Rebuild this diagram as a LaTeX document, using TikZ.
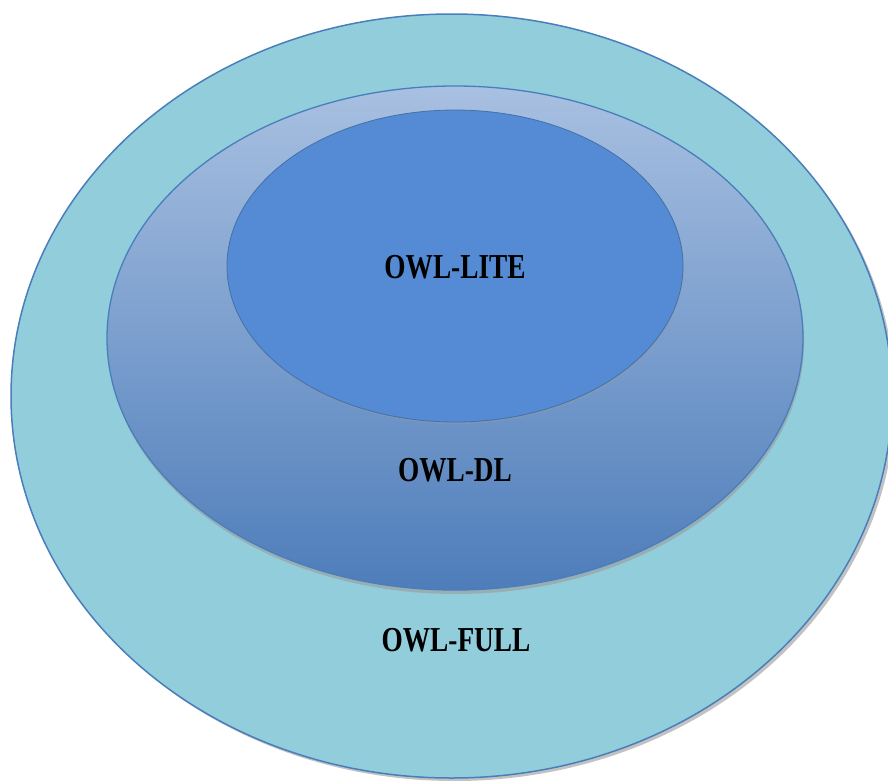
\documentclass[tikz,border=0pt]{standalone}
\usepackage{fontspec}
\usepackage{graphicx}
\setmainfont{Liberation Serif}
\usetikzlibrary{shapes.geometric,shadows}
\definecolor{fullfill}{HTML}{92CDDC}
\definecolor{ringline}{HTML}{4A7EBB}
\definecolor{dltop}{HTML}{A8C0E1}
\definecolor{dlbottom}{HTML}{4E7DBA}
\definecolor{litefill}{HTML}{548BD4}
\definecolor{shadowgrey}{HTML}{9A9A9A}
\tikzset{
  layer/.style={ellipse, inner sep=0pt, draw=ringline},
  tag/.style={font=\fontsize{35}{35}\selectfont\bfseries, text=black, inner sep=0pt},
}
\newcommand{\narrow}[1]{\scalebox{0.78}[1]{#1}}
\begin{document}
\begin{tikzpicture}[x=1pt,y=-1pt]
  \useasboundingbox (0,0) rectangle (888,780);
  \clip (0,0) rectangle (888,780);
  % outer language: OWL Full
  \fill[shadowgrey, opacity=0.6] (454.5,399) ellipse [x radius=440.5, y radius=382];
  \node[layer, fill=fullfill, line width=1.5pt,
        minimum width=881pt, minimum height=764pt] (full) at (451.5,396) {};
  % OWL DL, shaded from light to dark
  \fill[shadowgrey, opacity=0.6] (456,342) ellipse [x radius=348, y radius=252];
  \node[layer, top color=dltop, bottom color=dlbottom, line width=1.3pt,
        minimum width=696pt, minimum height=504pt] (dl) at (455,338) {};
  % OWL Lite
  \fill[shadowgrey, opacity=0.35] (456,268) ellipse [x radius=228, y radius=156];
  \node[layer, fill=litefill, draw=ringline!90!black, line width=0.8pt,
        minimum width=456pt, minimum height=312pt] (lite) at (455,266) {};
  % labels
  \node[tag] (litelabel) at (455,267) {\narrow{OWL-LITE}};
  \node[tag] (dllabel) at (455,470) {\narrow{OWL-DL}};
  \node[tag] (fulllabel) at (456,640) {\narrow{OWL-FULL}};
\end{tikzpicture}
\end{document}
